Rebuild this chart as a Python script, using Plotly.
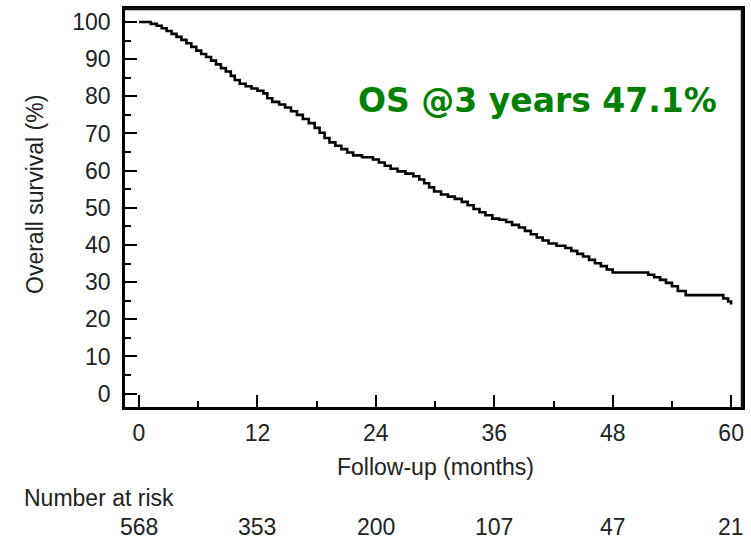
import plotly.graph_objects as go

# Kaplan-Meier overall survival
months = [0, 1.2, 1.8, 2.3, 2.8, 3.3, 3.8, 4.3, 4.8, 5.3, 5.8, 6.3, 6.8, 7.3, 7.8, 8.3, 8.8,
          9.3, 9.7, 10.2, 10.8, 11.4, 12.0, 12.6, 13.0, 13.5, 14.2, 14.8, 15.4, 16.0, 16.6,
          17.2, 17.8, 18.3, 18.8, 19.3, 19.9, 20.5, 21.1, 21.7, 22.6, 23.7, 24.3, 24.9, 25.5,
          26.2, 27.0, 27.8, 28.4, 28.9, 29.4, 29.9, 30.6, 31.3, 32.0, 32.7, 33.3, 33.9, 34.5,
          35.1, 35.8, 36.5, 37.2, 37.8, 38.5, 39.1, 39.7, 40.3, 40.9, 41.5, 42.3, 43.2, 43.8,
          44.4, 45.0, 45.6, 46.2, 46.8, 47.4, 48.0, 51.6, 52.2, 52.8, 53.4, 54.0, 54.6, 55.4,
          59.2, 59.7, 60.0]
survival = [100, 99.5, 99.0, 98.3, 97.6, 96.8, 96.0, 95.2, 94.3, 93.3, 92.3, 91.4, 90.6, 89.6,
            88.6, 87.6, 86.7, 85.5, 84.4, 83.4, 82.7, 82.1, 81.5, 80.8, 79.5, 78.5, 77.8, 77.0,
            76.0, 75.0, 73.9, 72.8, 71.5, 70.2, 68.8, 67.6, 66.7, 65.8, 64.9, 64.1, 63.6, 63.0,
            62.2, 61.3, 60.5, 59.8, 59.2, 58.5, 57.6, 56.6, 55.5, 54.4, 53.6, 53.0, 52.4, 51.6,
            50.7, 49.7, 48.8, 48.0, 47.1, 46.8, 46.2, 45.4, 44.7, 43.8, 42.9, 42.0, 41.2, 40.4,
            39.8, 39.2, 38.4, 37.6, 36.9, 36.0, 35.1, 34.3, 33.4, 32.6, 32.0, 31.3, 30.6, 29.8,
            28.9, 27.6, 26.5, 25.6, 24.8, 24.0]

x_ticks = [0, 12, 24, 36, 48, 60]
y_ticks = [0, 10, 20, 30, 40, 50, 60, 70, 80, 90, 100]
at_risk = [568, 353, 200, 107, 47, 21]

FONT = "Liberation Sans, Arial, sans-serif"
TXT = "#222222"

W, H = 751, 541
L, R, T, B = 125, 9, 9, 134
PW, PH = W - L - R, H - T - B

fig = go.Figure()
fig.add_trace(go.Scatter(
    x=months, y=survival, mode="lines", line=dict(shape="hv", color="black", width=2.6),
    showlegend=False, hoverinfo="skip"))

fig.update_layout(
    width=W, height=H,
    margin=dict(l=L, r=R, t=T, b=B, autoexpand=False),
    paper_bgcolor="white", plot_bgcolor="white",
    font=dict(family=FONT, size=23, color=TXT),
)
fig.update_xaxes(
    range=[-1.42, 61.1], tickvals=x_ticks, ticks="inside", ticklen=12, tickwidth=2,
    tickcolor="black", showline=True, linecolor="black", linewidth=2.5, mirror=True,
    showgrid=False, zeroline=False, ticklabelstandoff=4,
    tickfont=dict(family=FONT, size=23, color=TXT),
    minor=dict(tickvals=[6, 18, 30, 42, 54], ticks="inside", ticklen=6, tickwidth=2,
               tickcolor="black", showgrid=False),
)
fig.update_yaxes(
    range=[-3.6, 103.5], tickvals=y_ticks, ticks="inside", ticklen=12, tickwidth=2,
    tickcolor="black", showline=True, linecolor="black", linewidth=2.5, mirror=True,
    showgrid=False, zeroline=False, ticklabelstandoff=7,
    tickfont=dict(family=FONT, size=23, color=TXT),
    minor=dict(tickvals=[5, 15, 25, 35, 45, 55, 65, 75, 85, 95], ticks="inside",
               ticklen=6, tickwidth=2, tickcolor="black", showgrid=False),
)

# plot frame (top and right edges)
fig.add_shape(type="line", xref="paper", yref="paper", x0=0, x1=1, y0=1.0, y1=1.0,
              line=dict(color="#111111", width=2.5), layer="above")
fig.add_shape(type="line", xref="paper", yref="paper", x0=1.0, x1=1.0, y0=0, y1=1,
              line=dict(color="#111111", width=2.5), layer="above")


def px_x(px):
    return (px - L) / PW


def px_y(py):
    return (H - B - py) / PH


ann = []
ann.append(dict(text="Overall survival (%)", x=px_x(35), y=px_y(195), textangle=-90,
                font=dict(family=FONT, size=23, color=TXT)))
ann.append(dict(text="Follow-up (months)", x=px_x(435), y=px_y(467),
                font=dict(family=FONT, size=23, color=TXT)))
ann.append(dict(text="Number at risk", x=px_x(22), y=px_y(498), xanchor="left",
                font=dict(family=FONT, size=23, color=TXT)))
ann.append(dict(text="<b>OS @3 years 47.1%</b>", x=px_x(537), y=px_y(100),
                font=dict(family="DejaVu Sans, Verdana, sans-serif", size=33, color="#008000")))
for a in ann:
    a.setdefault("xanchor", "center")
    a["yanchor"] = "middle"
    a["xref"] = "paper"
    a["yref"] = "paper"
    a["showarrow"] = False
for xv, n in zip(x_ticks, at_risk):
    ann.append(dict(text=str(n), x=xv, y=px_y(527), xref="x", yref="paper",
                    xanchor="center", yanchor="middle", showarrow=False,
                    font=dict(family=FONT, size=23, color=TXT)))
fig.update_layout(annotations=ann)

fig.write_html("out.html")
